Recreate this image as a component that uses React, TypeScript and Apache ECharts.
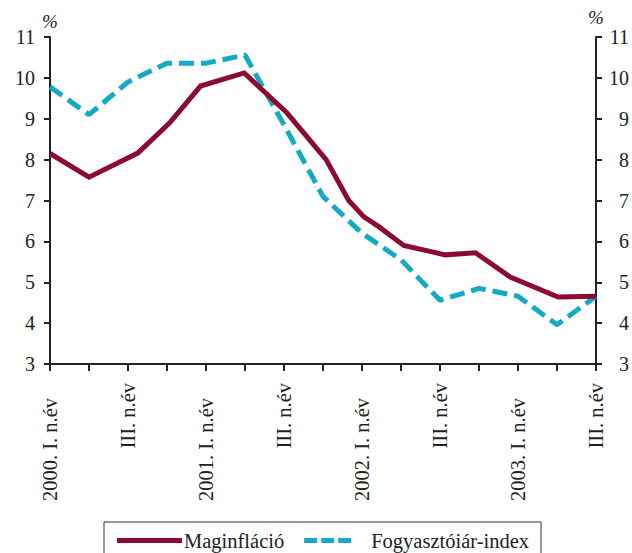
import React, { useEffect, useRef } from "react";
import * as echarts from "echarts";

const xLabels = [
  "2000. I. n.év", "", "III. n.év", "",
  "2001. I. n.év", "", "III. n.év", "",
  "2002. I. n.év", "", "III. n.év", "",
  "2003. I. n.év", "", "III. n.év",
];

const coreX = [0, 1, 2.25, 3.07, 3.86, 4.98, 6.08, 7.08, 7.66, 8.05, 8.43, 9.07, 10.14, 10.91, 11.8, 13.03, 14];
const coreY = [8.15, 7.57, 8.16, 8.9, 9.8, 10.12, 9.14, 8.0, 7.0, 6.6, 6.36, 5.9, 5.67, 5.72, 5.13, 4.64, 4.66];

const cpiY = [9.78, 9.1, 9.9, 10.36, 10.36, 10.56, 8.85, 7.1, 6.2, 5.55, 4.56, 4.85, 4.66, 3.96, 4.66];

const seriesNames = ["Maginfláció", "Fogyasztóiár-index"];

const FONT = "'Liberation Serif', 'Times New Roman', serif";
const INK = "#222";
const RED = "#8C0B30";
const BLUE = "#14A9C6";

const ICON_SOLID = "path://M0,0L65,0L65,5L0,5Z";
const ICON_DASHED = "path://M0,0L13,0L13,5L0,5Z M17,0L30,0L30,5L17,5Z M34,0L47,0L47,5L34,5Z M65,0L65,5";

const isYear = (s: string) => /^\d/.test(s);

export default function App() {
  const ref = useRef<HTMLDivElement>(null);
  useEffect(() => {
    if (!ref.current) return;
    const chart = echarts.init(ref.current, undefined, { renderer: "svg" });
    const yAxisBase = (pos: "left" | "right") => ({
      type: "value",
      position: pos,
      min: 3,
      max: 11,
      interval: 1,
      name: "%",
      nameLocation: "end",
      nameGap: 6,
      nameTextStyle: { fontFamily: FONT, fontSize: 19, fontStyle: "italic", color: INK, align: "center" },
      axisLine: { show: true, onZero: false, lineStyle: { color: INK, width: 2 } },
      axisTick: { show: true, inside: false, length: 6, lineStyle: { color: INK, width: 2 } },
      splitLine: { show: false },
      axisLabel: {
        fontFamily: FONT,
        fontSize: 20,
        color: INK,
        margin: pos === "left" ? 15 : 33,
        align: "right",
      },
    });
    const xBase = (main: boolean) => ({
      type: "value",
      min: 0,
      max: 14,
      interval: 1,
      position: "bottom",
      offset: main ? 0 : 15,
      axisLine: { show: main, onZero: false, lineStyle: { color: INK, width: 2 } },
      axisTick: { show: main, length: 7, lineStyle: { color: INK, width: 2 } },
      splitLine: { show: false },
      axisLabel: {
        rotate: 90,
        margin: 19,
        fontFamily: FONT,
        fontSize: 20.5,
        color: INK,
        showMinLabel: true,
        showMaxLabel: true,
        formatter: (v: number) => {
          const s = xLabels[Math.round(v)] || "";
          if (!s) return "";
          return isYear(s) === !main ? s : "";
        },
      },
    });
    chart.setOption({
      animation: false,
      backgroundColor: "#fff",
      grid: { left: 50, right: 34, top: 37, bottom: 189 },
      xAxis: [xBase(true), xBase(false)],
      yAxis: [yAxisBase("left"), yAxisBase("right")],
      legend: {
        data: [
          { name: seriesNames[0], icon: ICON_SOLID },
          { name: seriesNames[1], icon: ICON_DASHED },
        ],
        left: 104,
        top: 522,
        orient: "horizontal",
        borderColor: "#333",
        borderWidth: 1,
        padding: [8, 12, 10, 13],
        itemWidth: 65,
        itemHeight: 5,
        itemGap: 20,
        textStyle: { fontFamily: FONT, fontSize: 20.5, color: INK, padding: [0, 0, 0, -3] },
      },
      series: [
        {
          name: seriesNames[0],
          type: "line",
          xAxisIndex: 0,
          yAxisIndex: 0,
          showSymbol: false,
          symbol: "none",
          data: coreX.map((x, i) => [x, coreY[i]]),
          lineStyle: { color: RED, width: 5, join: "miter" },
          itemStyle: { color: RED },
          z: 3,
        },
        {
          name: seriesNames[1],
          type: "line",
          xAxisIndex: 0,
          yAxisIndex: 0,
          showSymbol: false,
          symbol: "none",
          data: cpiY.map((y, i) => [i, y]),
          lineStyle: { color: BLUE, width: 5, type: [15, 7] },
          itemStyle: { color: BLUE },
          z: 2,
        },
      ],
    });
    return () => chart.dispose();
  }, []);
  return (
    <div
      ref={ref}
      style={{ position: "absolute", left: 0, top: 0, width: 632, height: 553 }}
    />
  );
}
